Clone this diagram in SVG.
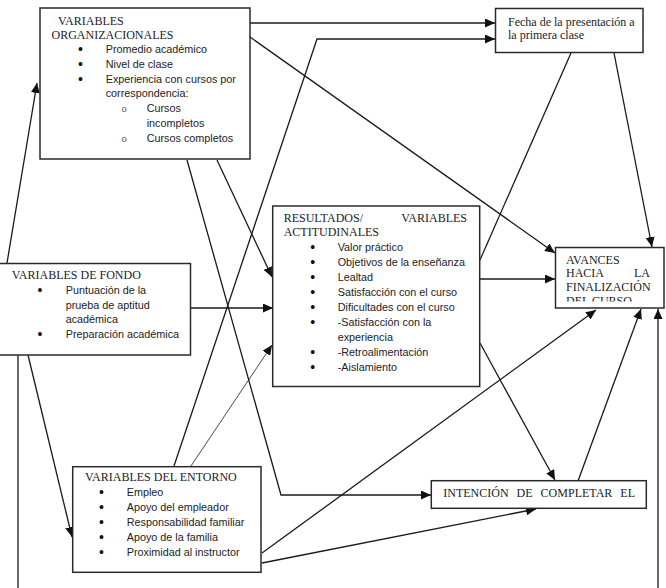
<svg xmlns="http://www.w3.org/2000/svg" width="666" height="588" viewBox="0 0 666 588">
<style>
.box{fill:#fff;stroke:#2a2a2a;stroke-width:1.5}
.t{font-family:"Liberation Serif","Times New Roman",serif;font-size:12px;fill:#222}
.s{font-family:"Liberation Sans",Arial,sans-serif;font-size:10.8px;fill:#222}
.b{font-family:"Liberation Sans",Arial,sans-serif;font-size:14px;fill:#111}
.o{font-family:"Liberation Mono","Courier New",monospace;font-size:9px;fill:#444}
.c{fill:none;stroke:#1a1a1a;stroke-width:1.3}
.thin{stroke-width:0.8}
</style>
<defs>
<marker id="ah" markerUnits="userSpaceOnUse" markerWidth="11" markerHeight="9" refX="10" refY="4.5" orient="auto">
<path d="M0,0 L10,4.5 L0,9 z" fill="#111"/>
</marker>
<clipPath id="clipAv"><rect x="556" y="248" width="107" height="53.5"/></clipPath>
</defs>
<g id="connectors">
<path class="c" d="M250,23 H495" marker-end="url(#ah)"/>
<path class="c" d="M174,466 L317,39 H495" marker-end="url(#ah)"/>
<path class="c" d="M250,37 L555,253" marker-end="url(#ah)"/>
<path class="c" d="M571,53 L480,260"/>
<path class="c" d="M614,53 L652,247" marker-end="url(#ah)"/>
<path class="c" d="M480,279 H555" marker-end="url(#ah)"/>
<path class="c" d="M191,308 H273" marker-end="url(#ah)"/>
<path class="c" d="M217,160 L272,277" marker-end="url(#ah)"/>
<path class="c" d="M187,160 L281,495 H431" marker-end="url(#ah)"/>
<path class="c" d="M7,263 L37,83" marker-end="url(#ah)"/>
<path class="c" d="M28,355 L72,537" marker-end="url(#ah)"/>
<path class="c" d="M18,355 V588"/>
<path class="c" d="M658,588 V309" marker-end="url(#ah)"/>
<path class="c thin" d="M191,466 L272,345" marker-end="url(#ah)"/>
<path class="c" d="M262,553 L596,310" marker-end="url(#ah)"/>
<path class="c" d="M262,563 L536,509" marker-end="url(#ah)"/>
<path class="c" d="M480,343 L555,480" marker-end="url(#ah)"/>
<path class="c" d="M578,481 L641,309" marker-end="url(#ah)"/>
</g>
<g id="organizacionales">
<rect class="box" x="40" y="8" width="210" height="151"/>
<text class="t" x="58" y="25">VARIABLES</text>
<text class="t" x="51.5" y="38.5">ORGANIZACIONALES</text>
<text class="b" x="78" y="54">•</text><text class="s" x="105.7" y="53">Promedio académico</text>
<text class="b" x="78" y="69">•</text><text class="s" x="105.7" y="68">Nivel de clase</text>
<text class="b" x="78" y="83.5">•</text><text class="s" x="105.7" y="82.5">Experiencia con cursos por</text>
<text class="s" x="105.7" y="97.3">correspondencia:</text>
<text class="o" x="121.5" y="112">o</text><text class="s" x="146.7" y="112">Cursos</text>
<text class="s" x="146.7" y="127">incompletos</text>
<text class="o" x="121.5" y="141.5">o</text><text class="s" x="146.7" y="141.5">Cursos completos</text>
</g>
<g id="fecha">
<rect class="box" x="495.5" y="8.5" width="147.5" height="44"/>
<text class="t" x="508" y="26">Fecha de la presentación a</text>
<text class="t" x="508" y="39">la primera clase</text>
</g>
<g id="fondo">
<rect class="box" x="-1" y="263.5" width="191.5" height="91.5"/>
<text class="t" x="11.7" y="278.5">VARIABLES DE FONDO</text>
<text class="b" x="37.5" y="295.3">•</text><text class="s" x="65.7" y="294.3">Puntuación de la</text>
<text class="s" x="65.7" y="308.5">prueba de aptitud</text>
<text class="s" x="65.7" y="323.3">académica</text>
<text class="b" x="37.5" y="338.7">•</text><text class="s" x="65.7" y="337.7">Preparación académica</text>
</g>
<g id="resultados">
<rect class="box" x="272.7" y="206" width="207" height="180.5"/>
<text class="t" x="283.7" y="222">RESULTADOS/</text>
<text class="t" x="467" y="222" text-anchor="end">VARIABLES</text>
<text class="t" x="283.7" y="236">ACTITUDINALES</text>
<text class="b" x="310.3" y="252">•</text><text class="s" x="337.7" y="251">Valor práctico</text>
<text class="b" x="310.3" y="267">•</text><text class="s" x="337.7" y="266">Objetivos de la enseñanza</text>
<text class="b" x="310.3" y="281.5">•</text><text class="s" x="337.7" y="280.5">Lealtad</text>
<text class="b" x="310.3" y="297">•</text><text class="s" x="337.7" y="296">Satisfacción con el curso</text>
<text class="b" x="310.3" y="312">•</text><text class="s" x="337.7" y="311">Dificultades con el curso</text>
<text class="b" x="310.3" y="327">•</text><text class="s" x="337.7" y="326">-Satisfacción con la</text>
<text class="s" x="337.7" y="341">experiencia</text>
<text class="b" x="310.3" y="357">•</text><text class="s" x="337.7" y="356">-Retroalimentación</text>
<text class="b" x="310.3" y="372">•</text><text class="s" x="337.7" y="371">-Aislamiento</text>
</g>
<g id="avances">
<rect class="box" x="555.5" y="247.5" width="108.5" height="60.5"/>
<g clip-path="url(#clipAv)">
<text class="t" x="566" y="264">AVANCES</text>
<text class="t" x="566" y="277">HACIA</text>
<text class="t" x="650" y="277" text-anchor="end">LA</text>
<text class="t" x="566" y="290.7">FINALIZACIÓN</text>
<text class="t" x="566" y="305">DEL CURSO</text>
</g>
</g>
<g id="entorno">
<rect class="box" x="72.7" y="466.7" width="188.3" height="105.6"/>
<text class="t" x="85" y="480.5">VARIABLES DEL ENTORNO</text>
<text class="b" x="99" y="497.3">•</text><text class="s" x="126.7" y="496.3">Empleo</text>
<text class="b" x="99" y="512.3">•</text><text class="s" x="126.7" y="511.3">Apoyo del empleador</text>
<text class="b" x="99" y="527.3">•</text><text class="s" x="126.7" y="526.3">Responsabilidad familiar</text>
<text class="b" x="99" y="542.3">•</text><text class="s" x="126.7" y="541.3">Apoyo de la familia</text>
<text class="b" x="99" y="557.3">•</text><text class="s" x="126.7" y="556.3">Proximidad al instructor</text>
</g>
<g id="intencion">
<rect class="box" x="431.3" y="480.7" width="215" height="27.6"/>
<text class="t" x="443.3" y="497" word-spacing="5">INTENCIÓN DE COMPLETAR EL</text>
</g>
</svg>
